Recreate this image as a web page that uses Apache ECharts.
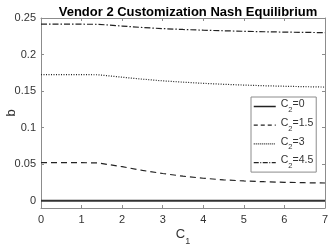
<!DOCTYPE html>
<html>
<head>
<meta charset="utf-8">
<script src="https://cdn.jsdelivr.net/npm/echarts@6/dist/echarts.min.js"></script>
<style>html,body{margin:0;padding:0;background:#fff;}#c{width:332px;height:250px;}</style>
</head>
<body>
<div id="c"></div>
<script>
var titleText = 'Vendor 2 Customization Nash Equilibrium';
var c1 = [0, 0.5, 1, 1.4, 2, 2.5, 3, 3.5, 4, 4.5, 5, 5.5, 6, 6.5, 7];
var seriesNames = ['0', '1.5', '3', '4.5'];
var b_c2_0   = [0, 0, 0, 0, 0, 0, 0, 0, 0, 0, 0, 0, 0, 0, 0];
var b_c2_1_5 = [0.052, 0.052, 0.052, 0.0518, 0.0465, 0.0415, 0.0372, 0.0335, 0.0307, 0.0285, 0.0270, 0.0260, 0.0252, 0.0246, 0.0242];
var b_c2_3   = [0.1725, 0.1725, 0.1725, 0.1723, 0.1690, 0.1663, 0.1640, 0.1622, 0.1606, 0.1593, 0.1582, 0.1573, 0.1566, 0.1560, 0.1555];
var b_c2_4_5 = [0.2415, 0.2415, 0.2415, 0.2414, 0.2390, 0.2370, 0.2355, 0.2343, 0.2333, 0.2325, 0.2318, 0.2312, 0.2307, 0.2303, 0.2300];
var yTicks = [0, 0.05, 0.1, 0.15, 0.2, 0.25];

function pairs(ys) { return c1.map(function (x, i) { return [x, ys[i]]; }); }
var allData = [b_c2_0, b_c2_1_5, b_c2_3, b_c2_4_5];
var styles = [
  {type: 'solid', width: 2, color: '#333'},
  {type: [6, 4], width: 1.2, color: '#222'},
  {type: [1, 1.5], width: 1.2, color: '#222'},
  {type: [6, 2, 1.5, 2], width: 1.2, color: '#222'}
];
var legendDash = ['solid', [4, 3], [1, 1], [5, 1.5, 1, 1.5]];
var FONT = 'Liberation Sans';
var axisColor = '#8c8c8c';
var labelColor = '#333';

var chart = echarts.init(document.getElementById('c'), null, {renderer: 'canvas'});
var series = allData.map(function (d, i) {
  return {
    name: seriesNames[i], type: 'line', data: pairs(d), xAxisIndex: 0, yAxisIndex: 0,
    symbol: 'none', showSymbol: false, lineStyle: styles[i], itemStyle: {color: styles[i].color},
    animation: false, silent: true
  };
});
var option = {
  animation: false,
  title: {
    text: titleText, left: 183, top: 1, textAlign: 'center',
    textStyle: {fontFamily: FONT, fontSize: 13, fontWeight: 'bold', color: '#000'}
  },
  grid: {left: 41, right: 7, top: 18, bottom: 42, containLabel: false, outerBoundsMode: 'none'},
  legend: {
    orient: 'vertical', left: 251, top: 97,
    backgroundColor: '#fff', borderColor: axisColor, borderWidth: 1,
    padding: [2, 3, 2, 2], itemGap: 3.7, itemWidth: 22, itemHeight: 10,
    itemStyle: {opacity: 0, borderWidth: 0},
    data: seriesNames.map(function (n, i) {
      return {name: n, lineStyle: {type: legendDash[i], width: i === 0 ? 1.5 : 1.2, color: '#222', opacity: 1}, itemStyle: {opacity: 0}};
    }),
    formatter: function (n) { return '{a|C}{s|2}{a|=' + n + '}'; },
    textStyle: {
      fontFamily: FONT, fontSize: 10.5, color: labelColor,
      rich: {
        a: {fontFamily: FONT, fontSize: 10.5, color: labelColor, lineHeight: 15, verticalAlign: 'top'},
        s: {fontFamily: FONT, fontSize: 7.5, color: labelColor, lineHeight: 15, verticalAlign: 'top', padding: [7, 0, 0, 0]}
      }
    }
  },
  xAxis: [{
    type: 'value', min: 0, max: 7, interval: 1, position: 'bottom',
    name: '{a|C}{s|1}', nameLocation: 'middle', nameGap: 20, nameMoveOverlap: false,
    nameTextStyle: {
      rich: {
        a: {fontFamily: FONT, fontSize: 13, color: labelColor, verticalAlign: 'top', lineHeight: 16},
        s: {fontFamily: FONT, fontSize: 9, color: labelColor, verticalAlign: 'top', lineHeight: 16, padding: [9, 0, 0, 0]}
      }
    },
    axisLine: {show: true, onZero: false, lineStyle: {color: axisColor, width: 1}},
    axisTick: {show: true, inside: true, length: 3, lineStyle: {color: axisColor}},
    axisLabel: {fontFamily: FONT, fontSize: 11, color: labelColor, margin: 6},
    splitLine: {show: false}
  }, {
    type: 'value', min: 0, max: 7, interval: 1, position: 'top',
    axisLine: {show: true, onZero: false, lineStyle: {color: axisColor, width: 1}},
    axisTick: {show: true, inside: true, length: 3, lineStyle: {color: axisColor}},
    axisLabel: {show: false}, splitLine: {show: false}
  }],
  yAxis: [{
    type: 'value', min: -0.01, max: 0.25, position: 'left',
    name: 'b', nameLocation: 'middle', nameGap: 23, nameMoveOverlap: false,
    nameTextStyle: {fontFamily: FONT, fontSize: 13, color: labelColor},
    axisLine: {show: true, onZero: false, lineStyle: {color: axisColor, width: 1}},
    axisTick: {show: true, inside: true, length: 3, lineStyle: {color: axisColor}, customValues: yTicks},
    axisLabel: {fontFamily: FONT, fontSize: 11, color: labelColor, margin: 5, customValues: yTicks,
      formatter: function (v) { return String(Math.round(v * 100) / 100); }},
    splitLine: {show: false}
  }, {
    type: 'value', min: -0.01, max: 0.25, position: 'right',
    axisLine: {show: true, onZero: false, lineStyle: {color: axisColor, width: 1}},
    axisTick: {show: true, inside: true, length: 3, lineStyle: {color: axisColor}, customValues: yTicks},
    axisLabel: {show: false, customValues: yTicks}, splitLine: {show: false}
  }],
  series: series
};
chart.setOption(option);
</script>
</body>
</html>
